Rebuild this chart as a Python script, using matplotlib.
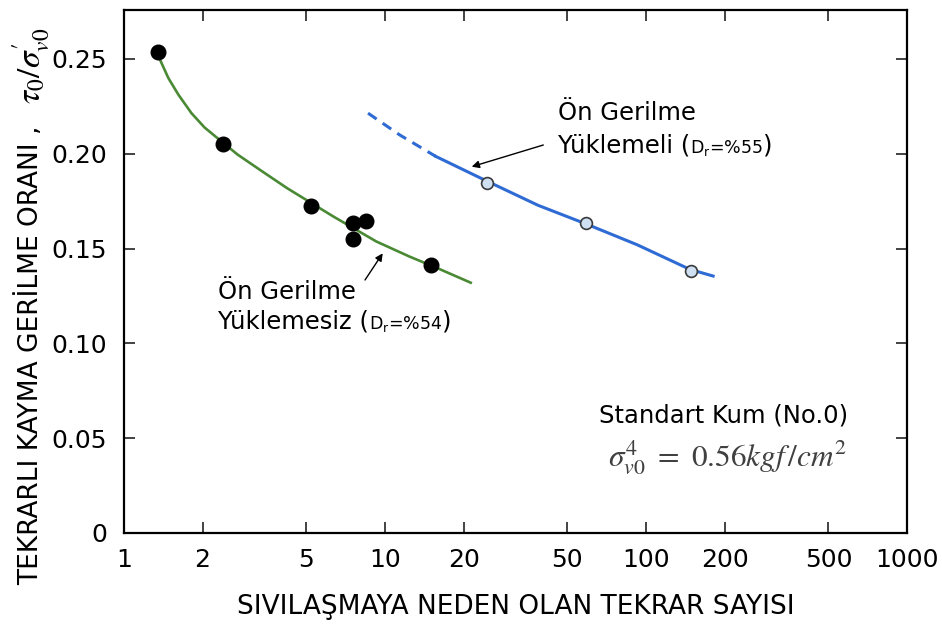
import matplotlib
matplotlib.use("Agg")
import matplotlib.pyplot as plt
from matplotlib.offsetbox import TextArea, HPacker, AnchoredOffsetbox

# --- data -------------------------------------------------------------
# cycles to liquefaction vs. cyclic stress ratio, no pre-loading (Dr=%54)
plain_cycles = [1.35, 2.39, 5.22, 7.52, 7.52, 8.42, 14.99]
plain_ratio = [0.2537, 0.2053, 0.1727, 0.1637, 0.1551, 0.1646, 0.1412]

# trend curve through the no pre-loading tests
plain_curve_x = [1.374, 1.479, 1.615, 1.813, 2.037, 2.377, 2.728, 3.343,
                 4.221, 6.34, 9.27, 12.4, 16.1, 21.3]
plain_curve_y = [0.2496, 0.2399, 0.2312, 0.2214, 0.2138, 0.2062, 0.1995, 0.1912,
                 0.1818, 0.1669, 0.1537, 0.1458, 0.1393, 0.1320]

# with pre-loading (Dr=%55)
pre_cycles = [24.7, 58.9, 148.7]
pre_ratio = [0.1845, 0.1633, 0.1382]

# trend curve with pre-loading: extrapolated (dashed) and measured (solid) parts
pre_dash_x = [8.61, 11.36, 15.65]
pre_dash_y = [0.2214, 0.2100, 0.1986]
pre_curve_x = [15.65, 24.2, 38.6, 58.9, 92.5, 147.4, 180.8]
pre_curve_y = [0.1986, 0.1860, 0.1728, 0.1630, 0.1520, 0.1390, 0.1355]

x_ticks = [1, 2, 5, 10, 20, 50, 100, 200, 500, 1000]
x_tick_labels = ["1", "2", "5", "10", "20", "50", "100", "200", "500", "1000"]
y_ticks = [0, 0.05, 0.10, 0.15, 0.20, 0.25]
y_tick_labels = ["0", "0.05", "0.10", "0.15", "0.20", "0.25"]

GREEN = "#4a8a35"
BLUE = "#2f6bd4"
FS_TICK = 18
FS_LABEL = 19
FS_NOTE = 17.5

plt.rcParams["font.family"] = ["DejaVu Sans"]

fig = plt.figure(figsize=(9.42, 6.30), dpi=100)
ax = fig.add_axes([124 / 942, 97 / 630, (907 - 124) / 942, (620 - 97) / 630])
ax.set_xscale("log")
ax.set_xlim(1, 1000)
ax.set_ylim(0, 0.2758)

# curves
ax.plot(plain_curve_x, plain_curve_y, color=GREEN, lw=1.9, zorder=2,
        solid_joinstyle="round")
ax.plot(pre_dash_x, pre_dash_y, color=BLUE, lw=2.2, dashes=(3.4, 2.4), zorder=2)
ax.plot(pre_curve_x, pre_curve_y, color=BLUE, lw=2.2, zorder=2,
        solid_joinstyle="round")

# test points
ax.plot(plain_cycles, plain_ratio, ls="none", marker="o", ms=10.5,
        mfc="black", mec="black", zorder=3)
ax.plot(pre_cycles, pre_ratio, ls="none", marker="o", ms=8.5,
        mfc="#cfe0f2", mec="#3a3a3a", mew=1.2, zorder=3)

# axes frame and ticks
for s in ax.spines.values():
    s.set_linewidth(1.6)
ax.minorticks_off()
ax.set_xticks(x_ticks)
ax.set_xticklabels(x_tick_labels, fontsize=FS_TICK)
ax.set_yticks(y_ticks)
ax.set_yticklabels(y_tick_labels, fontsize=FS_TICK)
ax.tick_params(axis="both", which="major", direction="in", length=8, width=1.2,
               top=True, right=True, color="#222222")
ax.tick_params(axis="x", pad=11)
ax.tick_params(axis="y", pad=12)

ax.set_xlabel("SIVILAŞMAYA NEDEN OLAN TEKRAR SAYISI", fontsize=FS_LABEL,
              labelpad=16)

# y-axis title: plain text part + math part
fig.text(30 / 942, 1 - 355 / 630, "TEKRARLI KAYMA GERİLME ORANI ,",
         rotation=90, ha="center", va="center", fontsize=FS_LABEL)
fig.text(31 / 942, 1 - 66 / 630, r"$\tau_0/\sigma_{v0}^{\prime}$",
         rotation=90, ha="center", va="center", fontsize=24,
         math_fontfamily="stix")


def px_to_axes(px, py):
    return ((px - 124) / (907 - 124), (533 - py) / (533 - 10))


def label_block(px, py, line_gap, first, second, sub_tail):
    """Two-line label; the density part is set smaller, with a subscript."""
    x, y = px_to_axes(px, py)
    ax.text(x, y, first, transform=ax.transAxes, fontsize=FS_NOTE,
            ha="left", va="baseline")
    parts = [
        TextArea(second, textprops=dict(fontsize=FS_NOTE)),
        TextArea(r"D$_\mathregular{r}$=" + sub_tail, textprops=dict(fontsize=12.5)),
        TextArea(")", textprops=dict(fontsize=FS_NOTE)),
    ]
    box = HPacker(children=parts, align="baseline", pad=0, sep=0)
    _, y2 = px_to_axes(px, py + line_gap)
    anchored = AnchoredOffsetbox(loc="center left", child=box, pad=0,
                                 frameon=False, bbox_to_anchor=(x, y2),
                                 bbox_transform=ax.transAxes, borderpad=0)
    ax.add_artist(anchored)


label_block(218, 299, 23, "Ön Gerilme", "Yüklemesiz (", "%54")
label_block(558, 120, 26, "Ön Gerilme", "Yüklemeli (", "%55")

# pointer arrows
arrow = dict(arrowstyle="-|>", lw=1.0, color="black", mutation_scale=11,
             shrinkA=0, shrinkB=0)
ax.annotate("", xy=px_to_axes(382.7, 253.3), xytext=px_to_axes(365, 280),
            xycoords="axes fraction", textcoords="axes fraction",
            arrowprops=arrow)
ax.annotate("", xy=px_to_axes(471.7, 166.7), xytext=px_to_axes(543.3, 145),
            xycoords="axes fraction", textcoords="axes fraction",
            arrowprops=arrow)

# test conditions
sx, sy = px_to_axes(848, 415)
ax.text(sx, sy, "Standart Kum (No.0)", transform=ax.transAxes, fontsize=FS_NOTE,
        ha="right", va="center")
mx, my = px_to_axes(847, 458)
ax.text(mx, my, r"$\sigma_{v0}^{4}\ =\ 0.56kgf\,/cm^{2}$", transform=ax.transAxes,
        fontsize=22.5, ha="right", va="center", color="#404040",
        math_fontfamily="stix")

fig.savefig("out.png", dpi=100, facecolor="white")
